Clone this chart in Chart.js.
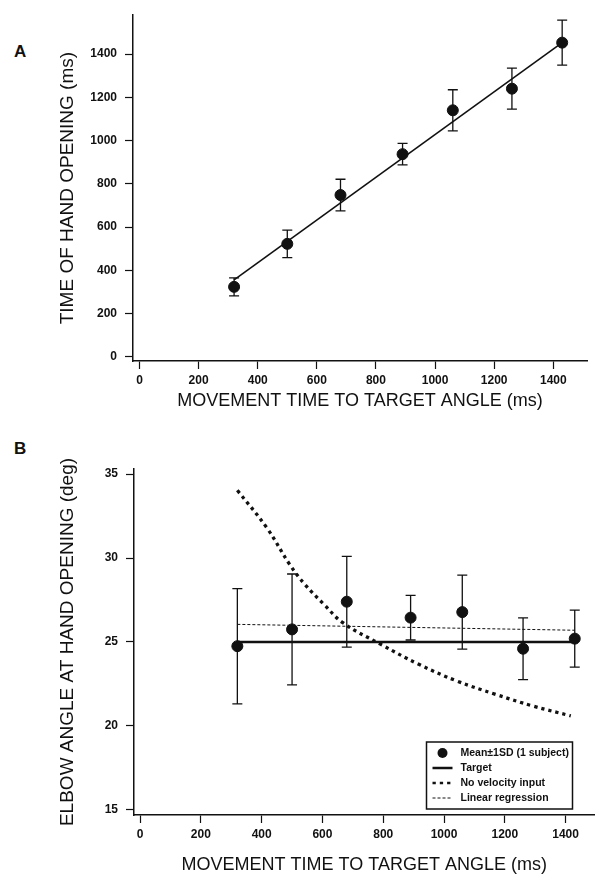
<!DOCTYPE html>
<html>
<head>
<meta charset="utf-8">
<script src="https://cdn.jsdelivr.net/npm/chart.js@4.4.1/dist/chart.umd.min.js"></script>
<style>
  body { margin: 0; background: #fff; width: 601px; height: 881px; position: relative; overflow: hidden; }
  canvas { position: absolute; left: 0; }
  #chartA { top: 0; }
  #chartB { top: 430px; }
  .panel { position: absolute; font: bold 17px "Liberation Sans", Arial, sans-serif; line-height: 20px; color: #111; }
</style>
</head>
<body>
<div class="panel" style="left:14px; top:42px;">A</div>
<div class="panel" style="left:14px; top:439px;">B</div>
<canvas id="chartA" width="601" height="430"></canvas>
<canvas id="chartB" width="601" height="451"></canvas>
<script>
// panel A
const moveTimeA = [320, 500, 680, 890, 1060, 1260, 1430];
const handOpenTime = [323, 522, 748, 937, 1140, 1240, 1453];
const handOpenSD = [42, 64, 73, 50, 95, 95, 104];
const fitX = [320, 1430];
const fitA = [355, 1453];

// panel B
const moveTimeB = [320, 500, 680, 890, 1060, 1260, 1430];
const elbowAngle = [24.75, 25.75, 27.4, 26.45, 26.78, 24.6, 25.2];
const elbowSD = [3.43, 3.3, 2.7, 1.33, 2.2, 1.84, 1.7];
const targetX = [320, 1430];
const targetAngle = [25, 25];
const noVelX = [320, 417, 492, 542, 605, 667, 792, 917, 1042, 1167, 1292, 1417];
const noVelAngle = [34.03, 31.8, 29.62, 28.43, 27.24, 26.15, 24.86, 23.67, 22.68, 21.9, 21.19, 20.6];
const regrX = [320, 1430];
const regrAngle = [26.05, 25.7];

// ticks
const xTicks = [0, 200, 400, 600, 800, 1000, 1200, 1400];
const yTicksA = [0, 200, 400, 600, 800, 1000, 1200, 1400];
const yTicksB = [15, 20, 25, 30, 35];

Chart.defaults.font.family = '"Liberation Sans", Arial, sans-serif';
Chart.defaults.color = '#111';
Chart.defaults.animation = false;

const pts = (xs, ys) => xs.map((x, i) => ({ x: x, y: ys[i] }));

// error bars for dataset 0, sd given in plugin options
const errorBars = {
  id: 'errorBars',
  beforeDatasetsDraw(chart, args, opts) {
    const { ctx, scales: { x, y } } = chart;
    const data = chart.data.datasets[0].data;
    ctx.save();
    ctx.strokeStyle = '#111';
    ctx.lineWidth = 1.3;
    data.forEach((p, i) => {
      const px = x.getPixelForValue(p.x);
      const top = y.getPixelForValue(p.y + opts.sd[i]);
      const bot = y.getPixelForValue(p.y - opts.sd[i]);
      ctx.beginPath();
      ctx.moveTo(px, top); ctx.lineTo(px, bot);
      ctx.moveTo(px - 5, top); ctx.lineTo(px + 5, top);
      ctx.moveTo(px - 5, bot); ctx.lineTo(px + 5, bot);
      ctx.stroke();
    });
    ctx.restore();
  }
};

// boxed legend in the lower right corner of panel B
const boxLegend = {
  id: 'boxLegend',
  afterDraw(chart, args, opts) {
    if (!opts.show) return;
    const { ctx, chartArea } = chart;
    const w = 146, h = 67;
    const x0 = chartArea.right - 22 - w;
    const y0 = chartArea.bottom - 6 - h;
    ctx.save();
    ctx.fillStyle = '#fff';
    ctx.fillRect(x0, y0, w, h);
    ctx.strokeStyle = '#111';
    ctx.lineWidth = 1.5;
    ctx.strokeRect(x0, y0, w, h);
    ctx.font = 'bold 10.5px "Liberation Sans", Arial, sans-serif';
    ctx.fillStyle = '#111';
    ctx.textBaseline = 'middle';
    chart.data.datasets.forEach((ds, i) => {
      const cy = y0 + 11 + i * 15;
      const sx = x0 + 6, ex = x0 + 26;
      ctx.save();
      if (ds.showLine === false) {
        ctx.beginPath();
        ctx.arc((sx + ex) / 2, cy, 5, 0, Math.PI * 2);
        ctx.fill();
      } else {
        ctx.strokeStyle = '#111';
        ctx.lineWidth = Math.min(ds.borderWidth, 2.5);
        ctx.setLineDash(ds.borderDash || []);
        ctx.beginPath();
        ctx.moveTo(sx, cy); ctx.lineTo(ex, cy);
        ctx.stroke();
      }
      ctx.restore();
      ctx.fillText(ds.label, x0 + 34, cy);
    });
    ctx.restore();
  }
};

function axes(xr, yr, yTicks, yTitle, yWidth, xHeight, xTitlePad) {
  const border = { display: true, color: '#111', width: 1.5 };
  const grid = { drawOnChartArea: false, drawTicks: true, tickLength: 8, tickColor: '#111', tickWidth: 1.2 };
  const tickFont = { size: 12, weight: 'bold' };
  const plain = v => String(v);
  return {
    x: {
      type: 'linear', min: xr[0], max: xr[1],
      border: border, grid: grid,
      afterBuildTicks: s => { s.ticks = xTicks.map(v => ({ value: v })); },
      afterFit: s => { s.height = xHeight; },
      ticks: { font: tickFont, padding: 4, maxRotation: 0, callback: plain },
      title: { display: true, text: 'MOVEMENT TIME TO TARGET ANGLE (ms)', font: { size: 18 }, padding: { bottom: xTitlePad } }
    },
    y: {
      type: 'linear', min: yr[0], max: yr[1],
      border: border, grid: grid,
      afterBuildTicks: s => { s.ticks = yTicks.map(v => ({ value: v })); },
      afterFit: s => { s.width = yWidth; },
      ticks: { font: tickFont, padding: 8, callback: plain },
      title: { display: true, text: yTitle, font: { size: 19 }, padding: { top: 56 } }
    }
  };
}

new Chart(document.getElementById('chartA'), {
  type: 'scatter',
  data: {
    datasets: [
      { label: 'Mean±1SD', data: pts(moveTimeA, handOpenTime), showLine: false,
        pointRadius: 5.5, pointBackgroundColor: '#111', pointBorderColor: '#111' },
      { label: 'Fit', data: pts(fitX, fitA), showLine: true, pointRadius: 0,
        borderColor: '#111', borderWidth: 1.6 }
    ]
  },
  options: {
    responsive: false,
    layout: { padding: { left: 0, right: 14, top: 14, bottom: 0 } },
    scales: axes([-22, 1514], [-20, 1580], yTicksA, 'TIME OF HAND OPENING (ms)', 133, 69, 18),
    plugins: { legend: { display: false }, tooltip: { enabled: false }, errorBars: { sd: handOpenSD }, boxLegend: { show: false } }
  },
  plugins: [errorBars, boxLegend]
});

new Chart(document.getElementById('chartB'), {
  type: 'scatter',
  data: {
    datasets: [
      { label: 'Mean±1SD (1 subject)', data: pts(moveTimeB, elbowAngle), showLine: false,
        pointRadius: 5.5, pointBackgroundColor: '#111', pointBorderColor: '#111', borderWidth: 1 },
      { label: 'Target', data: pts(targetX, targetAngle), showLine: true, pointRadius: 0,
        borderColor: '#111', borderWidth: 2.5 },
      { label: 'No velocity input', data: pts(noVelX, noVelAngle), showLine: true, pointRadius: 0,
        borderColor: '#111', borderWidth: 3.3, borderDash: [3.3, 4], tension: 0.4 },
      { label: 'Linear regression', data: pts(regrX, regrAngle), showLine: true, pointRadius: 0,
        borderColor: '#111', borderWidth: 1, borderDash: [3, 2] }
    ]
  },
  options: {
    responsive: false,
    layout: { padding: { left: 0, right: 4, top: 39, bottom: 0 } },
    scales: axes([-20, 1495], [14.7, 35.3], yTicksB, 'ELBOW ANGLE AT HAND OPENING (deg)', 134, 66, 5),
    plugins: { legend: { display: false }, tooltip: { enabled: false }, errorBars: { sd: elbowSD }, boxLegend: { show: true } }
  },
  plugins: [errorBars, boxLegend]
});
</script>
</body>
</html>
